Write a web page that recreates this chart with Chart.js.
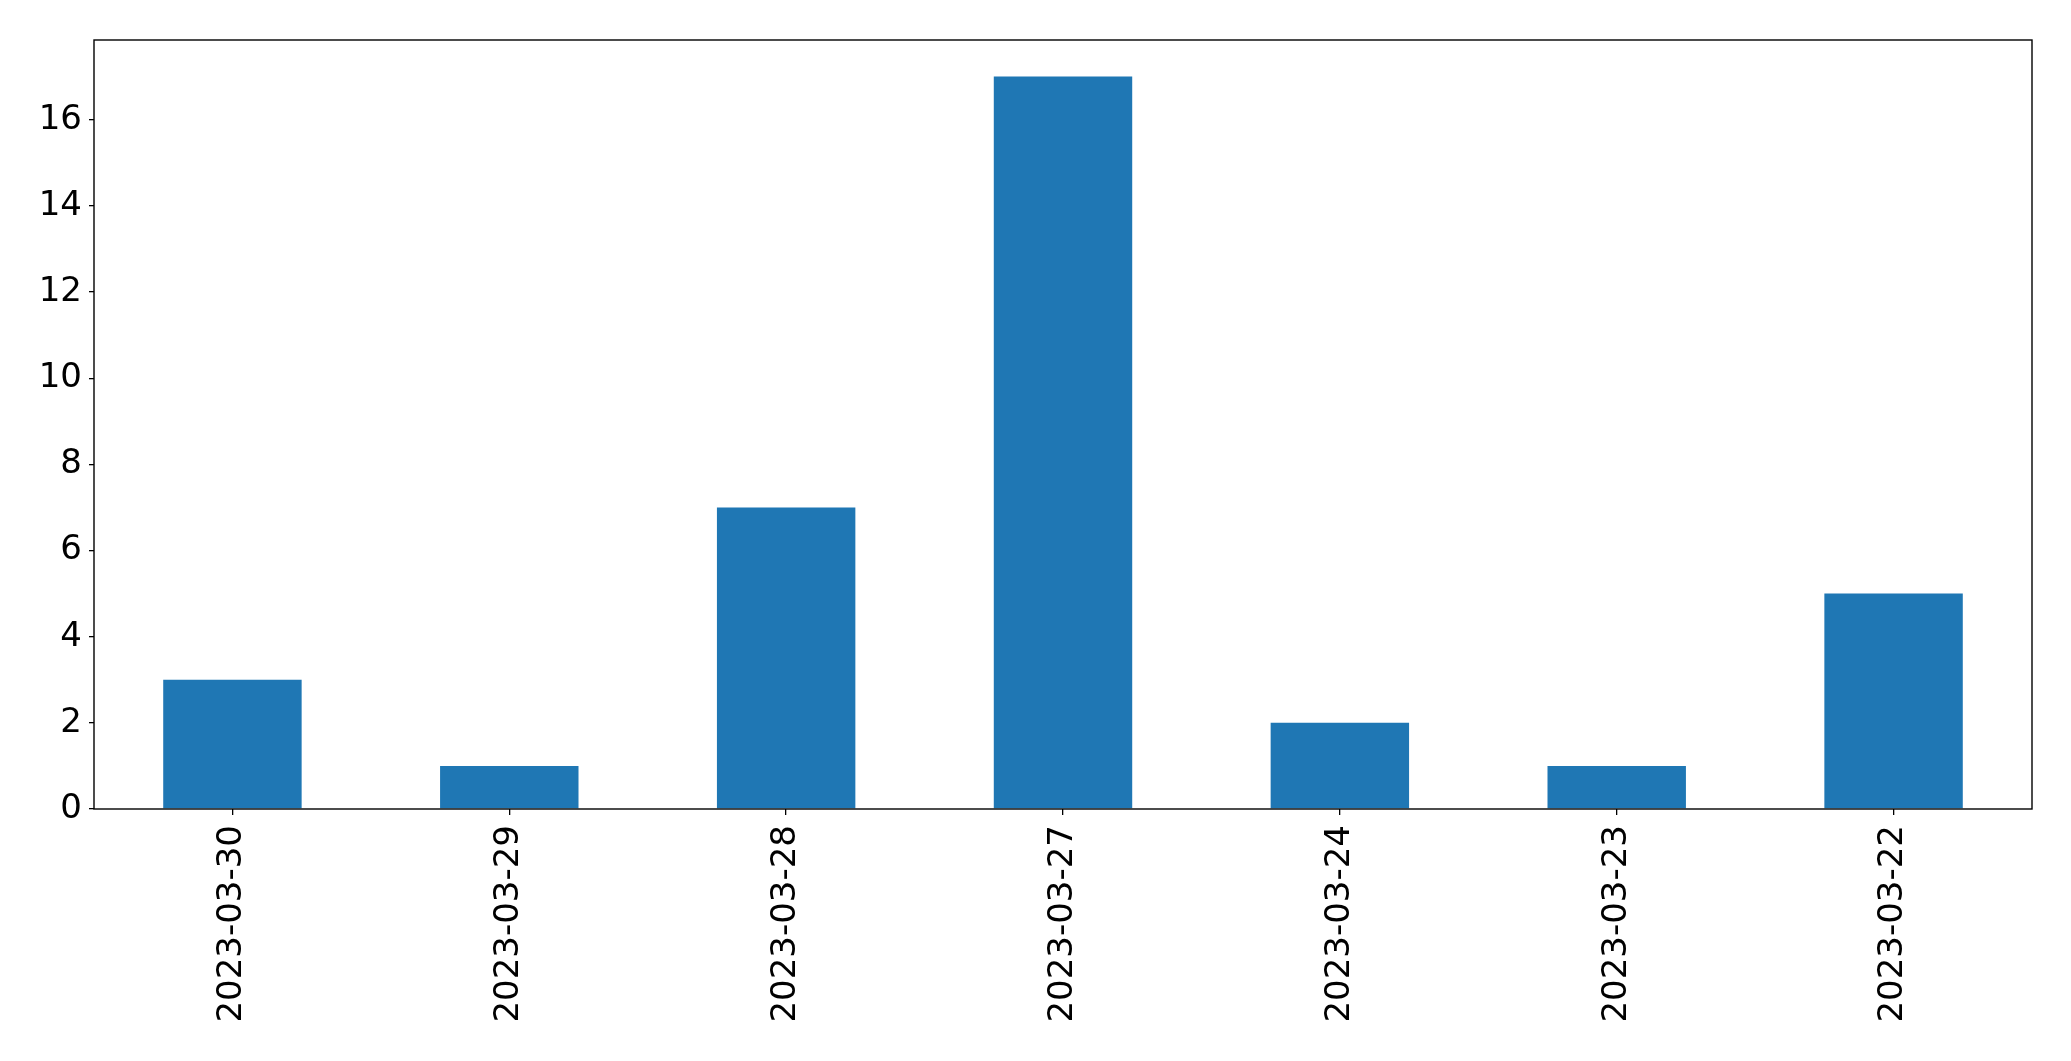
<!DOCTYPE html>
<html>
<head>
<meta charset="utf-8">
<script src="https://cdn.jsdelivr.net/npm/chart.js@4/dist/chart.umd.min.js"></script>
<style>
html,body{margin:0;padding:0;background:#fff;}
#wrap{width:2071px;height:1061px;position:relative;}
</style>
</head>
<body>
<div id="wrap"><canvas id="c" width="2071" height="1061"></canvas></div>
<script>
const categories = ["2023-03-30","2023-03-29","2023-03-28","2023-03-27","2023-03-24","2023-03-23","2023-03-22"];
const counts = [3,1,7,17,2,1,5];
const yTicks = [0,2,4,6,8,10,12,14,16];
const yMax = 17.85;

const frame = {
  id: 'frame',
  afterDraw(chart){
    const a = chart.chartArea, ctx = chart.ctx;
    ctx.save();
    ctx.strokeStyle = '#000';
    ctx.lineWidth = 1.4;
    ctx.strokeRect(a.left, a.top, a.right - a.left, a.bottom - a.top);
    ctx.restore();
  }
};

Chart.defaults.font.family = 'DejaVu Sans';
Chart.defaults.color = '#000';

new Chart(document.getElementById('c'), {
  type: 'bar',
  data: {
    labels: categories,
    datasets: [{
      data: counts,
      backgroundColor: '#1f77b4',
      borderWidth: 0,
      categoryPercentage: 1.0,
      barPercentage: 0.5
    }]
  },
  options: {
    responsive: false,
    animation: false,
    layout: { padding: { top: 40, right: 39, left: 0, bottom: 0 } },
    plugins: { legend: { display: false }, tooltip: { enabled: false } },
    scales: {
      x: {
        afterFit(s){ s.height = 252; },
        grid: { display: true, offset: false, drawOnChartArea: false, drawTicks: true, tickLength: 6, color: '#000', lineWidth: 1.3 },
        border: { display: false },
        ticks: { font: { size: 34 }, color: '#000', maxRotation: 90, minRotation: 90, padding: 10, autoSkip: false }
      },
      y: {
        min: 0,
        max: yMax,
        afterFit(s){ s.width = 94; },
        afterBuildTicks(s){ s.ticks = yTicks.map(v => ({ value: v })); },
        grid: { display: true, drawOnChartArea: false, drawTicks: true, tickLength: 5, color: '#000', lineWidth: 1.3 },
        border: { display: false },
        ticks: { font: { size: 34 }, color: '#000', padding: 7 }
      }
    }
  },
  plugins: [frame]
});
</script>
</body>
</html>
